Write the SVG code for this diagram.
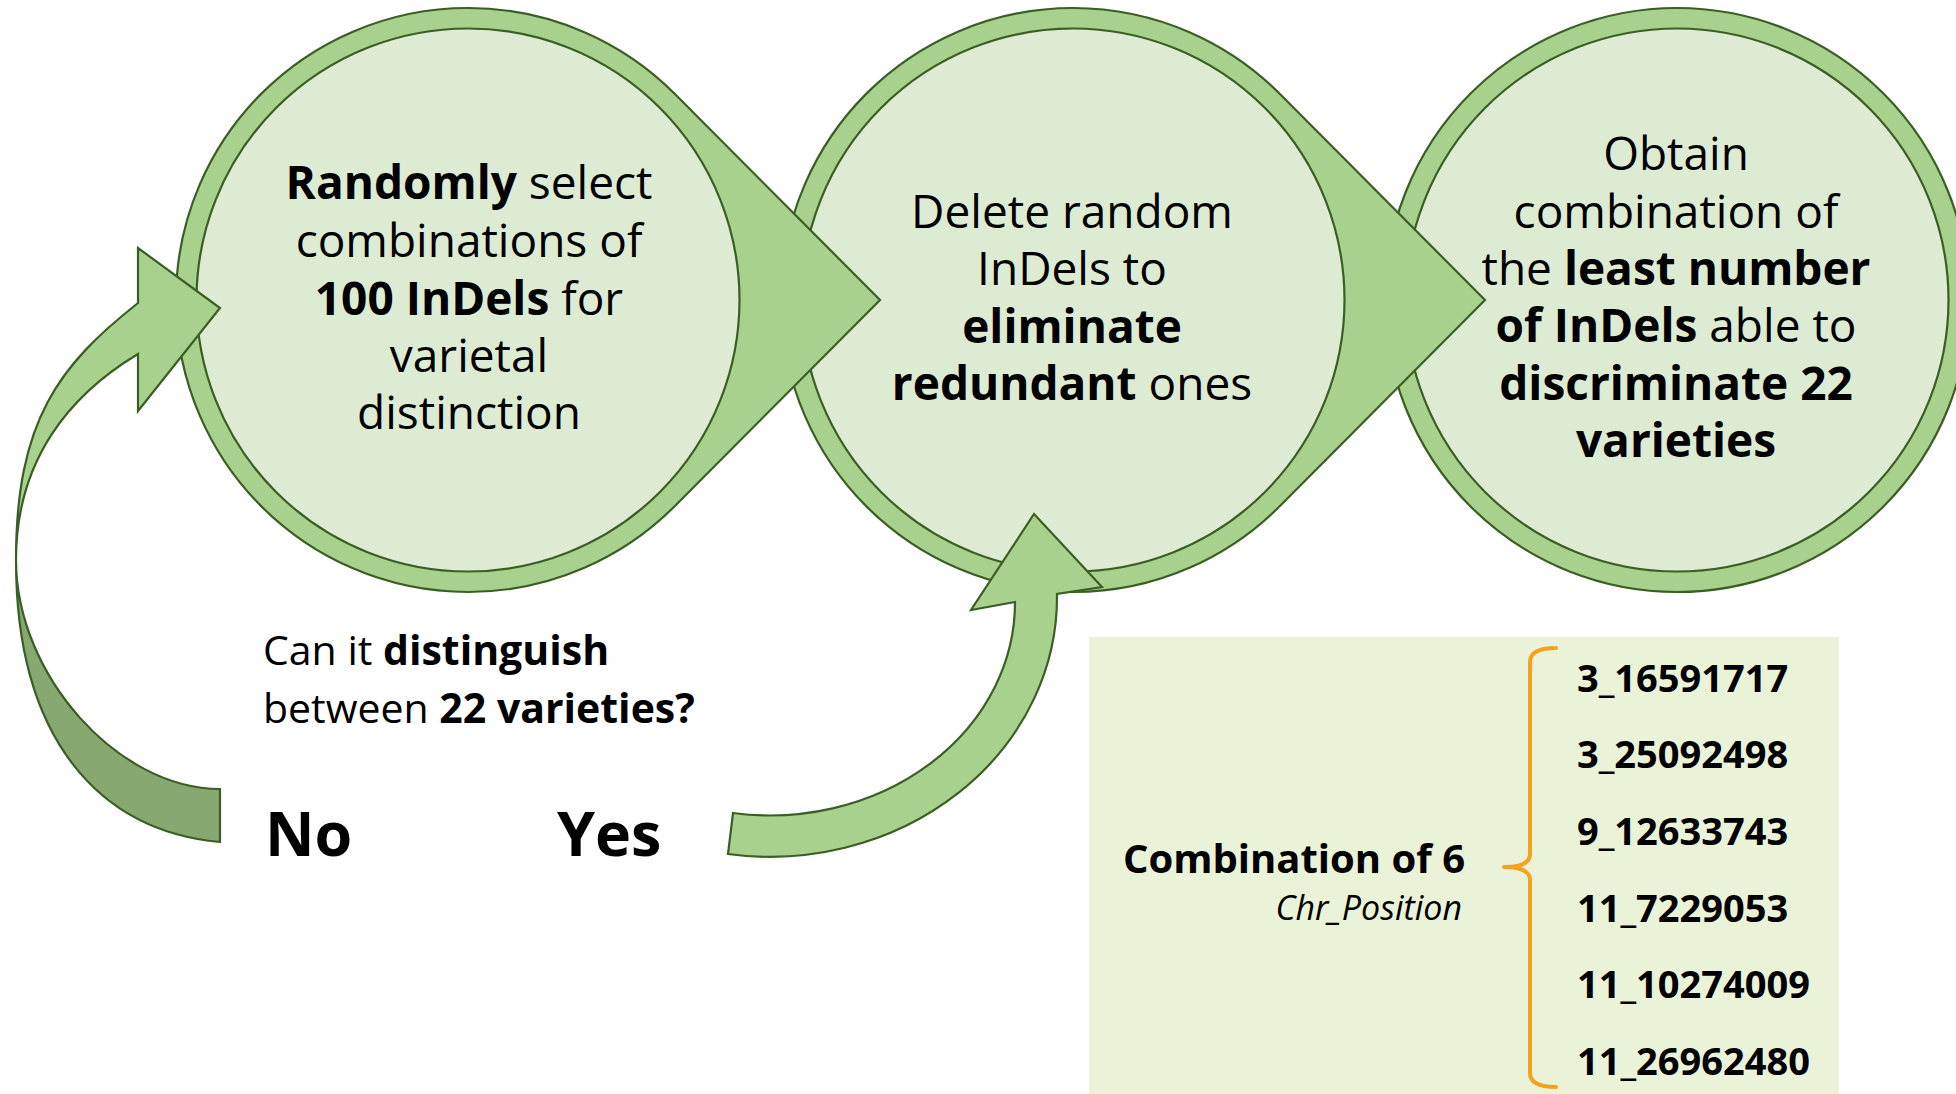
<svg xmlns="http://www.w3.org/2000/svg" width="1956" height="1094" viewBox="0 0 1956 1094">
  <style>
    .outer { fill: #A9D18E; stroke: #3B5E25; stroke-width: 2.2; stroke-linejoin: miter; }
    .inner { fill: #DDEBD3; stroke: #3B5E25; stroke-width: 2.2; }
    .dark { fill: #87A871; stroke: #3B5E25; stroke-width: 2.2; stroke-linejoin: miter; }
    text { font-family: "Open Sans", "Noto Sans", "Liberation Sans", sans-serif; fill: #000; }
    .ct { font-size: 46px; text-anchor: middle; }
    .q { font-size: 41px; }
    .yn { font-size: 61px; font-weight: bold; }
    .b { font-weight: bold; }
    .num { font-size: 38px; font-weight: bold; }
    .brace { fill: none; stroke: #F5A21E; stroke-width: 4; stroke-linecap: round; stroke-linejoin: round; }
  </style>

  <g id="step3">
    <circle class="outer" cx="1677" cy="300" r="292"/>
    <circle class="inner" cx="1677" cy="300" r="271.5"/>
    <text class="ct" x="1676" y="170">Obtain</text>
    <text class="ct" x="1676" y="228">combination of</text>
    <text class="ct" x="1676" y="285">the <tspan class="b">least number</tspan></text>
    <text class="ct" x="1676" y="342"><tspan class="b">of InDels</tspan> able to</text>
    <text class="ct b" x="1676" y="400">discriminate 22</text>
    <text class="ct b" x="1676" y="457">varieties</text>
  </g>

  <g id="step2">
    <path class="outer" d="M 1279.9,94 L 1485,300 L 1279.9,506 A 292 292 0 1 1 1279.9,94 Z"/>
    <circle class="inner" cx="1073" cy="300" r="271.5"/>
    <text class="ct" x="1072" y="228">Delete random</text>
    <text class="ct" x="1072" y="285">InDels to</text>
    <text class="ct b" x="1072" y="343">eliminate</text>
    <text class="ct" x="1072" y="400"><tspan class="b">redundant</tspan> ones</text>
  </g>

  <g id="step1">
    <path class="outer" d="M 674.9,94 L 880,300 L 674.9,506 A 292 292 0 1 1 674.9,94 Z"/>
    <circle class="inner" cx="468" cy="300" r="271.5"/>
    <text class="ct" x="469" y="199"><tspan class="b">Randomly</tspan> select</text>
    <text class="ct" x="469" y="257">combinations of</text>
    <text class="ct" x="469" y="315"><tspan class="b">100 InDels</tspan> for</text>
    <text class="ct" x="469" y="372">varietal</text>
    <text class="ct" x="469" y="429">distinction</text>
  </g>

  <g id="connectors">
    <g id="arrow-no">
      <path class="dark" d="M 16,560 C 16,675 118,789 220,789 L 220,842 C 100,831 16,740 16,560 Z"/>
      <path class="outer" d="M 138,303 L 138,248 L 220,308 L 138,411 L 138,354 C 69.6,395 16,460 16,560 C 16,420 59.5,365 138,303 Z"/>
    </g>
    <path id="arrow-yes" class="outer" d="M 733,813 A 245 213 0 0 0 1015,602 L 971,610 L 1034,514 L 1102,587 L 1057,594 A 287 260 0 0 1 728,854 Z"/>
  </g>

  <g id="question">
    <text class="q" x="263" y="665">Can it <tspan class="b">distinguish</tspan></text>
    <text class="q" x="263" y="723">between <tspan class="b">22 varieties?</tspan></text>
  </g>
  <g id="label-no"><text class="yn" x="265" y="856">No</text></g>
  <g id="label-yes"><text class="yn" x="557" y="856">Yes</text></g>

  <g id="result-box">
    <rect x="1089" y="637" width="750" height="470" fill="#EAF2D7"/>
    <text class="b" x="1465" y="873" text-anchor="end" font-size="40">Combination of 6</text>
    <text x="1462" y="920" text-anchor="end" font-size="34" font-style="italic">Chr_Position</text>
    <path class="brace" d="M 1556,648 Q 1530,648 1530,662 L 1530,854 Q 1530,867 1504,867 Q 1530,867 1530,880 L 1530,1073 Q 1530,1087 1556,1087"/>
    <text class="num" x="1577" y="692">3_16591717</text>
    <text class="num" x="1577" y="768">3_25092498</text>
    <text class="num" x="1577" y="845">9_12633743</text>
    <text class="num" x="1577" y="922">11_7229053</text>
    <text class="num" x="1577" y="998">11_10274009</text>
    <text class="num" x="1577" y="1075">11_26962480</text>
  </g>
</svg>
